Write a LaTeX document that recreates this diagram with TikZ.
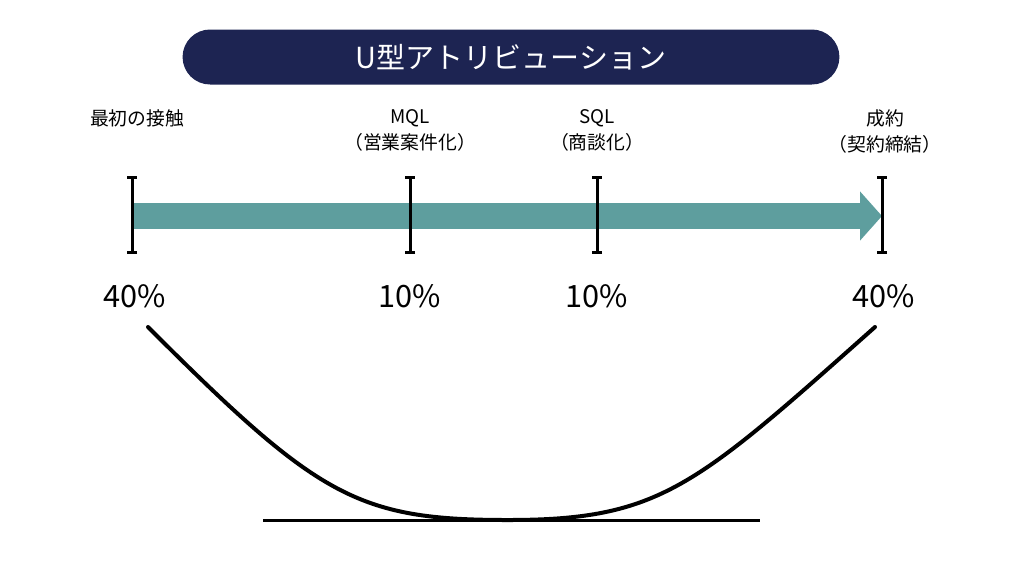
\documentclass[tikz,border=0pt]{standalone}
\usepackage{fontspec}
\setmainfont{Noto Sans CJK JP}
\usepackage{tikz}
\usetikzlibrary{arrows.meta, calc}
\definecolor{mynavy}{RGB}{29,36,82}
\definecolor{myteal}{RGB}{94,158,158}
\definecolor{mydark}{RGB}{0,0,0}
\tikzset{
  titlebox/.style={rectangle, fill=mynavy, text=white,
    minimum width=13.14cm, minimum height=1.1cm,
    rounded corners=0.55cm, font=\fontsize{16.5}{19}\selectfont},
  stagelabel/.style={align=center, inner sep=0pt, anchor=north,
    font=\fontsize{10.7}{14.8}\selectfont},
  pctlabel/.style={inner sep=0pt, font=\fontsize{17.5}{20}\selectfont},
  tick/.style={{Bar[width=0.2cm]}-{Bar[width=0.2cm]}, line width=0.06cm, color=mydark},
  flow/.style={-{Triangle[length=0.44cm, width=0.96cm]}, line width=0.52cm, color=myteal},
  ucurve/.style={line width=0.08cm, color=mydark, line cap=round},
  line/.style={line width=0.06cm, color=mydark}
}
\begin{document}
\begin{tikzpicture}[x=0.02cm, y=-0.02cm]
  \useasboundingbox (0,0) rectangle (1024,576);

  % Title
  \node[titlebox] (title) at (511,57) {U型アトリビューション};

  % Stage labels
  \node[stagelabel] (first) at (137,109) {最初の接触};
  \node[stagelabel] (mql) at (410,109) {MQL\\（営業案件化）};
  \node[stagelabel] (sql) at (597,109) {SQL\\（商談化）};
  \node[stagelabel] (won) at (885,109) {成約\\（契約締結）};

  % Tick positions on the timeline
  \coordinate (t1) at (132,216);
  \coordinate (t2) at (410,216);
  \coordinate (t3) at (597,216);
  \coordinate (t4) at (882,216);

  % Timeline arrow
  \draw[flow] (t1) -- (t4);

  % Ticks
  \draw[tick] ($(t1)+(0,-40)$) -- ($(t1)+(0,38)$);
  \draw[tick] ($(t2)+(0,-40)$) -- ($(t2)+(0,38)$);
  \draw[tick] ($(t3)+(0,-40)$) -- ($(t3)+(0,38)$);
  \draw[tick] ($(t4)+(0,-40)$) -- ($(t4)+(0,38)$);

  % Weights
  \node[pctlabel] (p1) at (135,296) {40\%};
  \node[pctlabel] (p2) at (410,296) {10\%};
  \node[pctlabel] (p3) at (597,296) {10\%};
  \node[pctlabel] (p4) at (884,296) {40\%};

  % U-shaped curve and base line
  \coordinate (cl) at (148,327);
  \coordinate (cb) at (508,520);
  \coordinate (cr) at (875,327);
  \coordinate (bl) at (263,520);
  \coordinate (br) at (760,520);
  \draw[line] (bl) -- (br);
  \draw[ucurve] (cl) .. controls (318,497) and (357,520) .. (cb)
    .. controls (660,520) and (695,487) .. (cr);
\end{tikzpicture}
\end{document}
